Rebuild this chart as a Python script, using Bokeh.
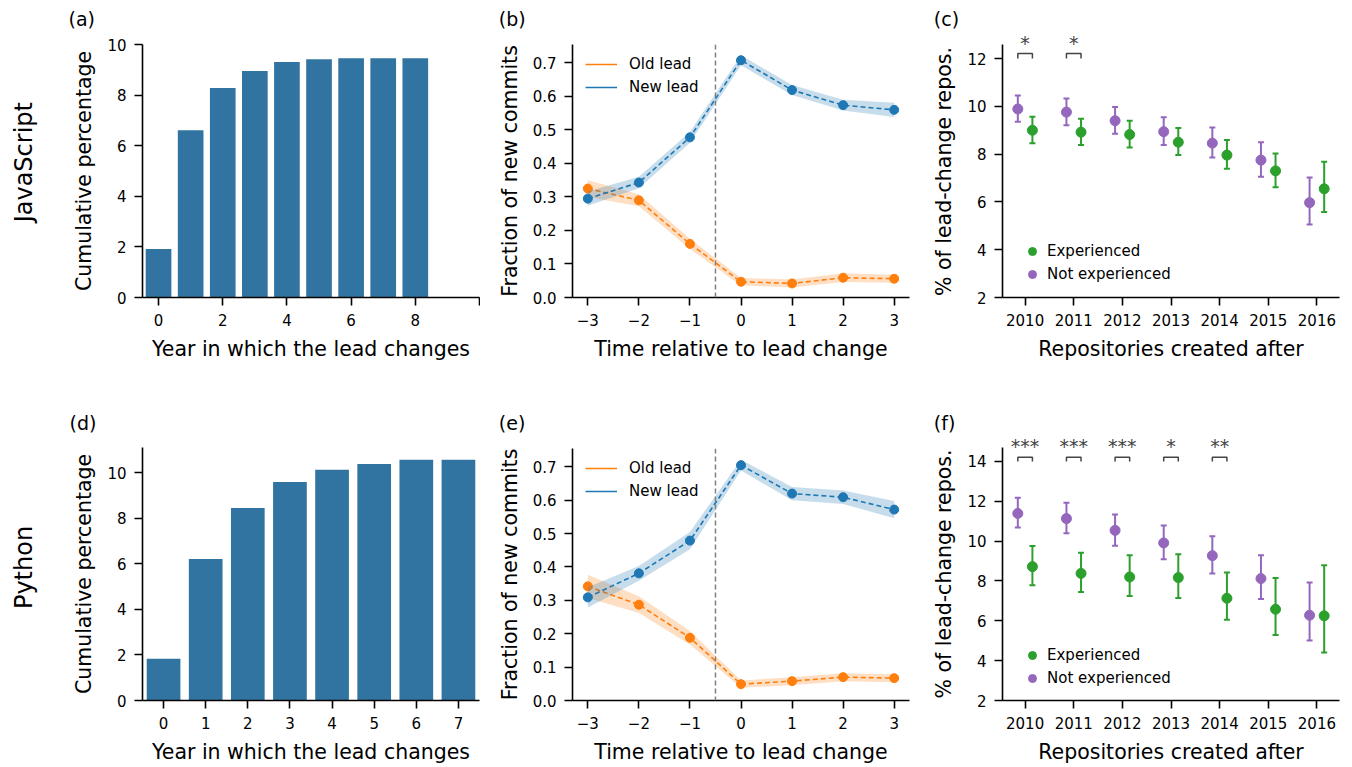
import math
import numpy as np
from bokeh.plotting import figure
from bokeh.layouts import row, column
from bokeh.core.properties import value
from bokeh.models import (ColumnDataSource, Range1d, FixedTicker, Span, Whisker, TeeHead,
                          Legend, LegendItem, PrintfTickFormatter)
from bokeh.embed import file_html
from bokeh.resources import INLINE

# ---------------- data ----------------
# (a)/(d) cumulative share of repositories whose lead changes, by year
js_years = [0, 1, 2, 3, 4, 5, 6, 7, 8]
js_cumulative = [1.92, 6.61, 8.28, 8.95, 9.31, 9.42, 9.46, 9.46, 9.46]
py_years = [0, 1, 2, 3, 4, 5, 6, 7]
py_cumulative = [1.83, 6.21, 8.45, 9.59, 10.12, 10.38, 10.56, 10.56]

# (b)/(e) fraction of new commits around the lead change
rel_time = [-3, -2, -1, 0, 1, 2, 3]
js_old_lead = [0.325, 0.290, 0.160, 0.047, 0.042, 0.059, 0.056]
js_old_ci = [0.025, 0.018, 0.015, 0.011, 0.012, 0.013, 0.012]
js_new_lead = [0.295, 0.343, 0.478, 0.708, 0.619, 0.574, 0.560]
js_new_ci = [0.021, 0.017, 0.016, 0.015, 0.015, 0.016, 0.021]
py_old_lead = [0.342, 0.287, 0.188, 0.049, 0.058, 0.070, 0.067]
py_old_ci = [0.035, 0.025, 0.020, 0.011, 0.012, 0.012, 0.012]
py_new_lead = [0.309, 0.381, 0.479, 0.705, 0.620, 0.609, 0.572]
py_new_ci = [0.030, 0.022, 0.026, 0.016, 0.020, 0.020, 0.026]

# (c)/(f) share of lead-change repositories by creation year
created_after = [2010, 2011, 2012, 2013, 2014, 2015, 2016]
js_notexp = [9.89, 9.76, 9.40, 8.94, 8.46, 7.75, 5.97]
js_notexp_lo = [9.36, 9.21, 8.85, 8.38, 7.86, 7.05, 5.06]
js_notexp_hi = [10.46, 10.33, 9.97, 9.54, 9.12, 8.50, 7.02]
js_exp = [9.00, 8.92, 8.82, 8.50, 7.96, 7.30, 6.55]
js_exp_lo = [8.46, 8.38, 8.28, 7.96, 7.39, 6.61, 5.58]
js_exp_hi = [9.57, 9.48, 9.40, 9.09, 8.59, 8.03, 7.68]
js_sig = ["*", "*", "", "", "", "", ""]

py_notexp = [11.39, 11.13, 10.54, 9.91, 9.27, 8.12, 6.28]
py_notexp_lo = [10.68, 10.39, 9.77, 9.09, 8.38, 7.10, 5.01]
py_notexp_hi = [12.18, 11.93, 11.34, 10.78, 10.24, 9.29, 7.92]
py_exp = [8.72, 8.38, 8.20, 8.17, 7.13, 6.58, 6.25]
py_exp_lo = [7.78, 7.45, 7.25, 7.15, 6.05, 5.29, 4.41]
py_exp_hi = [9.76, 9.42, 9.29, 9.34, 8.42, 8.15, 8.79]
py_sig = ["***", "***", "***", "*", "**", "", ""]

row_labels = ["JavaScript", "Python"]
top_tags = ["(a)", "(b)", "(c)"]
bottom_tags = ["(d)", "(e)", "(f)"]

# ---------------- style ----------------
FONT = "DejaVu Sans"
BAR = "#3274a1"
ORANGE = "#ff7f0e"
BLUE = "#1f77b4"
GREEN = "#2ca02c"
PURPLE = "#9467bd"
DODGE = 0.15
NBSP = "\u00a0"
HAIR = "\u200a"


def make_fig(w, h, xr, yr, left, right, top, bottom):
    p = figure(width=w, height=h, x_range=Range1d(*xr), y_range=Range1d(*yr),
               output_backend="svg", toolbar_location=None,
               min_border_left=left, min_border_right=right,
               min_border_top=top, min_border_bottom=bottom)
    p.frame_align = False
    p.outline_line_color = None
    p.grid.visible = False
    return p


def text_strip(w, h):
    """A bare figure whose frame is the whole canvas, used for free-standing text."""
    s = figure(width=w, height=h, x_range=Range1d(0, w), y_range=Range1d(0, h),
               x_axis_location=None, y_axis_location=None, output_backend="svg",
               toolbar_location=None, min_border=0)
    s.frame_align = False
    s.outline_line_color = None
    s.grid.visible = False
    return s


def style_axes(p, xlabel, ylabel, xticks, yticks):
    p.xaxis.axis_label = xlabel
    p.yaxis.axis_label = ylabel
    p.xaxis.ticker = FixedTicker(ticks=xticks)
    p.yaxis.ticker = FixedTicker(ticks=yticks)
    for ax in (p.xaxis[0], p.yaxis[0]):
        ax.axis_line_width = 1.6
        ax.axis_line_color = "black"
        ax.major_tick_line_width = 1.6
        ax.major_tick_line_color = "black"
        ax.major_tick_out = 8
        ax.major_tick_in = 0
        ax.minor_tick_line_color = None
        ax.major_label_text_font = FONT
        ax.major_label_text_font_size = "15px"
        ax.major_label_text_color = "black"
        ax.major_label_standoff = 8
        ax.axis_label_text_font = FONT
        ax.axis_label_text_font_size = "20.5px"
        ax.axis_label_text_font_style = "normal"
        ax.axis_label_text_color = "black"
        ax.axis_label_standoff = 8


def bar_panel(p, years, values, xticks, yticks, overrides=None):
    p.vbar(x=years, top=values, width=0.8, color=BAR, line_color=None)
    style_axes(p, "Year in which the lead changes", "Cumulative percentage", xticks, yticks)
    if overrides:
        p.xaxis.major_label_overrides = overrides


def commit_panel(p, old, old_ci, new, new_ci, legend_y):
    keys = []
    for vals, ci, col in ((old, old_ci, ORANGE), (new, new_ci, BLUE)):
        v = np.array(vals)
        c = np.array(ci)
        p.varea(x=rel_time, y1=v - c, y2=v + c, fill_color=col, fill_alpha=0.25)
        p.line(x=rel_time, y=vals, line_color=col, line_width=1.6, line_dash="5 3")
        p.scatter(x=rel_time, y=vals, size=9, fill_color=col, line_color=col)
        # single-point solid line: draws nothing, gives the legend a solid key
        keys.append(p.line(x=rel_time[:1], y=vals[:1], line_color=col, line_width=1.6))
    p.add_layout(Span(location=-0.5, dimension="height", line_color="#808080",
                      line_width=1.5, line_dash="5 3"))
    leg = Legend(items=[LegendItem(label="Old lead", renderers=[keys[0]]),
                        LegendItem(label="New lead", renderers=[keys[1]])],
                 location=(13, legend_y), border_line_color=None,
                 background_fill_alpha=0, padding=0, margin=0,
                 label_text_font=FONT, label_text_font_size="15px",
                 label_text_color="black",
                 glyph_width=32, glyph_height=20, label_height=20,
                 spacing=3, label_standoff=12)
    p.add_layout(leg)
    style_axes(p, "Time relative to lead change", "Fraction of new commits",
               rel_time, [0, 0.1, 0.2, 0.3, 0.4, 0.5, 0.6, 0.7])
    p.xaxis.major_label_overrides = {-3: "\u22123", -2: "\u22122", -1: "\u22121"}
    p.yaxis.formatter = PrintfTickFormatter(format="%.1f")


def experience_panel(p, notexp, ne_lo, ne_hi, exp, e_lo, e_hi, sig, yticks,
                     axis_top, bracket_base, legend_y, ylabel_pad):
    yrs = np.array(created_after, dtype=float)
    x_ne = yrs - DODGE
    x_e = yrs + DODGE
    src_ne = ColumnDataSource(dict(x=x_ne, y=notexp, lo=ne_lo, hi=ne_hi))
    src_e = ColumnDataSource(dict(x=x_e, y=exp, lo=e_lo, hi=e_hi))
    for src, col in ((src_ne, PURPLE), (src_e, GREEN)):
        p.add_layout(Whisker(source=src, base="x", lower="lo", upper="hi",
                             dimension="height", line_color=col, line_width=2,
                             lower_head=TeeHead(size=6, line_color=col, line_width=2),
                             upper_head=TeeHead(size=6, line_color=col, line_width=2)))
    r_ne = p.scatter("x", "y", source=src_ne, size=10, fill_color=PURPLE, line_color=PURPLE)
    r_e = p.scatter("x", "y", source=src_e, size=10, fill_color=GREEN, line_color=GREEN)

    # significance brackets between the paired estimates
    idx = [i for i, s in enumerate(sig) if s]
    top = bracket_base + 0.21
    xs = [[x_ne[i], x_ne[i], x_e[i], x_e[i]] for i in idx]
    ys = [[bracket_base, top, top, bracket_base] for _ in idx]
    p.multi_line(xs=xs, ys=ys, line_color="#444444", line_width=1.5)
    star_src = ColumnDataSource(dict(x=[yrs[i] for i in idx], y=[top] * len(idx),
                                     t=[sig[i] for i in idx]))
    p.text(x="x", y="y", text="t", source=star_src, text_align="center",
           text_baseline="bottom", text_font=value(FONT), text_font_size="19px",
           text_color="#444444")

    leg = Legend(items=[LegendItem(label="Experienced", renderers=[r_e]),
                        LegendItem(label="Not experienced", renderers=[r_ne])],
                 location=(20, legend_y), border_line_color=None,
                 background_fill_alpha=0, padding=0, margin=0,
                 label_text_font=FONT, label_text_font_size="15px",
                 label_text_color="black",
                 glyph_width=20, glyph_height=20, label_height=20,
                 spacing=3, label_standoff=5)
    p.add_layout(leg)
    # the frame reaches above the axis so the stars have room: the spine stops at
    # axis_top, and trailing padding keeps the rotated title centred on the spine
    style_axes(p, "Repositories created after", "% of lead-change repos." + ylabel_pad,
               created_after, yticks)
    p.yaxis.bounds = (yticks[0], axis_top)


# ---------------- row titles ----------------
lbl = text_strip(50, 767)
lbl.text(x=[23.5, 23.5], y=[767 - 161.7, 767 - 567], text=row_labels, angle=math.pi / 2,
         text_align="center", text_baseline="middle", text_font=value(FONT),
         text_font_size="24px", text_color="black")

# ---------------- panel letters ----------------
head1 = text_strip(1302, 30)
head1.text(x=[18, 448.3, 883.3], y=[11.5] * 3, text=top_tags, text_align="left",
           text_baseline="middle", text_font=value(FONT), text_font_size="19px",
           text_color="black")
head2 = text_strip(1302, 51)
head2.text(x=[19, 448.3, 883.3], y=[11.5] * 3, text=bottom_tags, text_align="left",
           text_baseline="middle", text_font=value(FONT), text_font_size="19px",
           text_color="black")

# ---------------- panels ----------------
pa = make_fig(430, 353, (-0.5, 10.0), (0, 10.0), 92, 1, 14, 86)
bar_panel(pa, js_years, js_cumulative, [0, 2, 4, 6, 8, 10], [0, 2, 4, 6, 8, 10], {10: ""})

pb = make_fig(432, 353, (-3.3, 3.3), (0, 0.755), 92, 3, 14, 86)
commit_panel(pb, js_old_lead, js_old_ci, js_new_lead, js_new_ci, 200)

pc = make_fig(440, 353, (2009.535, 2016.465), (2, 13.176), 90, 13, 0, 86)
experience_panel(pc, js_notexp, js_notexp_lo, js_notexp_hi, js_exp, js_exp_lo, js_exp_hi,
                 js_sig, [2, 4, 6, 8, 10, 12], 12.59, 12.0, 13, NBSP * 2 + HAIR)

pd = make_fig(430, 333, (-0.5, 7.5), (0, 11.1), 92, 1, 13, 67)
bar_panel(pd, py_years, py_cumulative, py_years, [0, 2, 4, 6, 8, 10])

pe = make_fig(432, 333, (-3.3, 3.3), (0, 0.755), 92, 3, 14, 67)
commit_panel(pe, py_old_lead, py_old_ci, py_new_lead, py_new_ci, 199)

pf = make_fig(440, 333, (2009.535, 2016.465), (2, 15.353), 90, 13, 0, 67)
experience_panel(pf, py_notexp, py_notexp_lo, py_notexp_hi, py_exp, py_exp_lo, py_exp_hi,
                 py_sig, [2, 4, 6, 8, 10, 12, 14], 14.7, 14.0, 12, NBSP * 2)

layout = row(lbl,
             column(head1, row(pa, pb, pc, spacing=0), head2, row(pd, pe, pf, spacing=0),
                    spacing=0),
             spacing=0)

open("out.html", "w").write(file_html(layout, INLINE))
